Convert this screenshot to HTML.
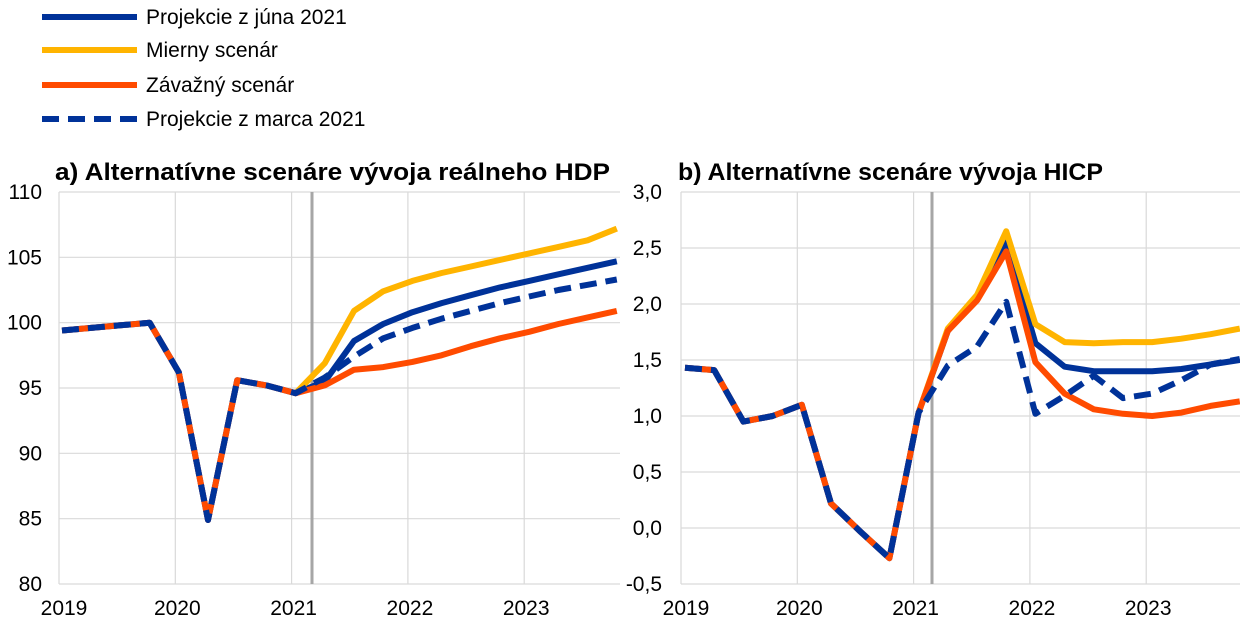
<!DOCTYPE html>
<html><head><meta charset="utf-8"><style>
body{margin:0;background:#fff;width:1240px;height:627px;overflow:hidden;font-family:"Liberation Sans",Arial,sans-serif}
svg{display:block}
</style></head><body>
<svg id="c" width="1240" height="627" viewBox="0 0 1240 627" xmlns="http://www.w3.org/2000/svg">
<g font-size="21" fill="#000">
 <g><line x1="42" y1="17" x2="137" y2="17" stroke="#003299" stroke-width="6"/><text x="146" y="24">Projekcie z júna 2021</text></g>
 <g><line x1="42" y1="50" x2="137" y2="50" stroke="#ffb400" stroke-width="6"/><text x="146" y="57">Mierny scenár</text></g>
 <g><line x1="42" y1="85" x2="137" y2="85" stroke="#ff4b00" stroke-width="6"/><text x="146" y="92">Závažný scenár</text></g>
 <g><line x1="42" y1="119" x2="137" y2="119" stroke="#003299" stroke-width="6" stroke-dasharray="17,9"/><text x="146" y="126">Projekcie z marca 2021</text></g>
</g>
<text x="55" y="180" font-size="24" font-weight="bold" textLength="555" lengthAdjust="spacingAndGlyphs">a) Alternatívne scenáre vývoja reálneho HDP</text>
<text x="678" y="180" font-size="24" font-weight="bold" textLength="425" lengthAdjust="spacingAndGlyphs">b) Alternatívne scenáre vývoja HICP</text>
<g id="left"></g>
<g id="right"></g>
</svg>
<script>
const years=["2019","2020","2021","2022","2023"];
const gdpTicks=[80,85,90,95,100,105,110];
const gdpJune=[99.4,99.6,99.8,100.0,96.2,84.9,95.6,95.2,94.6,95.5,98.6,99.9,100.8,101.5,102.1,102.7,103.2,103.7,104.2,104.7];
const gdpMild=[null,null,null,null,null,null,null,null,94.6,96.9,100.9,102.4,103.2,103.8,104.3,104.8,105.3,105.8,106.3,107.2];
const gdpSevere=[99.4,99.6,99.8,100.0,96.2,84.9,95.6,95.2,94.6,95.2,96.4,96.6,97.0,97.5,98.2,98.8,99.3,99.9,100.4,100.9];
const gdpMarch=[99.4,99.6,99.8,100.0,96.2,84.9,95.6,95.2,94.6,95.8,97.4,98.8,99.6,100.3,100.9,101.5,102.0,102.5,102.9,103.3];
const hicpTicks=[-0.5,0,0.5,1,1.5,2,2.5,3];
const hicpJune=[1.43,1.41,0.95,1.0,1.1,0.22,-0.03,-0.27,1.03,1.76,2.06,2.55,1.65,1.44,1.40,1.40,1.40,1.42,1.46,1.50];
const hicpMild=[null,null,null,null,null,null,null,null,1.03,1.78,2.08,2.65,1.82,1.66,1.65,1.66,1.66,1.69,1.73,1.78];
const hicpSevere=[1.43,1.41,0.95,1.0,1.1,0.22,-0.03,-0.27,1.03,1.76,2.03,2.47,1.48,1.20,1.06,1.02,1.00,1.03,1.09,1.13];
const hicpMarch=[1.43,1.41,0.95,1.0,1.1,0.22,-0.03,-0.27,1.03,1.45,1.62,2.02,1.02,1.18,1.36,1.16,1.20,1.32,1.46,1.51];
const NS="http://www.w3.org/2000/svg";
function mk(p,t,a){const e=document.createElementNS(NS,t);for(const k in a)e.setAttribute(k,a[k]);p.appendChild(e);return e;}
function chart(g,o){
 const y=v=>o.yb+(v-o.ymin)/(o.ymax-o.ymin)*(o.yt-o.yb);
 const x=i=>o.x0+o.dx*i;
 o.ticks.forEach(t=>{
  const l=mk(g,"line",{x1:o.pl,x2:o.pr,y1:y(t),y2:y(t),stroke:"#d9d9d9","stroke-width":1.2});
  
  
  const tx=mk(g,"text",{x:o.lx,y:y(t)+7,"text-anchor":"end","font-size":21});
  tx.textContent=o.fmt(t);
  
  
 });
 years.forEach((yr,k)=>{
  const gx=o.pl+o.yw*k;
  const l=mk(g,"line",{x1:gx,x2:gx,y1:o.yt,y2:o.yb,stroke:"#d9d9d9","stroke-width":1.2});
  
  
  const tx=mk(g,"text",{x:gx+(k==0?5:2),y:615,"text-anchor":"middle","font-size":21});
  tx.textContent=yr;
  
  
 });
 const vl=mk(g,"line",{x1:o.vx,x2:o.vx,y1:o.yt,y2:o.yb,stroke:"#a6a6a6","stroke-width":3});
 
 
 const series=[[o.s[0],"#003299",null,"june-projection-line"],[o.s[1],"#ffb400",null,"mild-scenario-line"],[o.s[2],"#ff4b00",null,"severe-scenario-line"],[o.s[3],"#003299","17,9","march-projection-line"]];
 series.forEach(([d,c,da,n])=>{
  let pts=[];d.forEach((v,i)=>{if(v!==null)pts.push(x(i).toFixed(1)+","+y(v).toFixed(1));});
  const a={points:pts.join(" "),fill:"none",stroke:c,"stroke-width":6,"stroke-linejoin":"round"};
  if(da)a["stroke-dasharray"]=da;
  const p=mk(g,"polyline",a);
  
  
 });
}
chart(document.getElementById("left"),{ymin:80,ymax:110,yt:192,yb:584,x0:62,dx:29.2,pl:59,pr:620,yw:116.3,lx:42,vx:312,ticks:gdpTicks,fmt:t=>String(t),s:[gdpJune,gdpMild,gdpSevere,gdpMarch]});
chart(document.getElementById("right"),{ymin:-0.5,ymax:3,yt:192,yb:584,x0:685,dx:29.2,pl:681,pr:1240,yw:116.3,lx:662,vx:932,ticks:hicpTicks,fmt:t=>t.toFixed(1).replace(".",","),s:[hicpJune,hicpMild,hicpSevere,hicpMarch]});
</script>
</body></html>
